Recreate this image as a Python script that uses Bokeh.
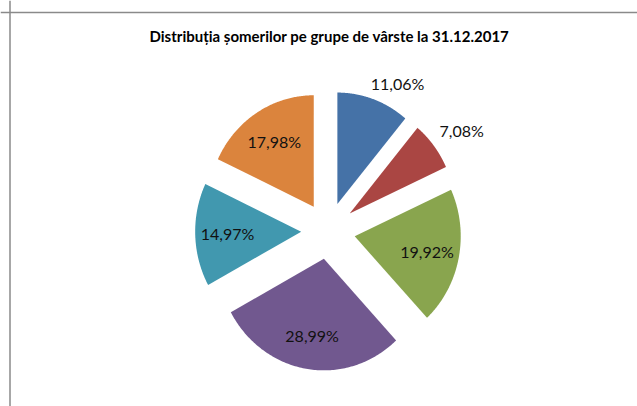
import numpy as np
from bokeh.plotting import figure
from bokeh.models import ColumnDataSource, Range1d, Span
from bokeh.core.properties import value
from bokeh.embed import file_html
from bokeh.resources import INLINE

# ---- data ----
title_text = "Distribuția șomerilor pe grupe de vârste la 31.12.2017"
shares = [11.06, 7.08, 19.92, 28.99, 14.97, 17.98]
colors = ["#4572A7", "#AA4643", "#89A54E", "#71588F", "#4198AF", "#DB843D"]
outside = [True, True, False, False, False, False]

# ---- layout constants (page pixels) ----
ORIGIN = 0                 # where the figure starts on the page
W, H = 637, 406
CX, CY = 327.7, 230.3      # pie centre on page
RX, RY = 106.0, 111.5      # pie radii in pixels
EXPLODE = 0.255

def px(x):
    return (x - CX) / RX

def py(y):
    return (CY - y) / RY

p = figure(width=W, height=H, output_backend="svg", toolbar_location=None,
           x_range=Range1d(px(ORIGIN), px(ORIGIN + W)),
           y_range=Range1d(py(ORIGIN + H), py(ORIGIN)),
           min_border=0)
p.axis.visible = False
p.grid.visible = False
p.outline_line_color = None
p.background_fill_color = "white"
p.border_fill_color = "white"

# border of the chart area
p.add_layout(Span(location=px(9.5), dimension="height", line_color="#8a8a8a", line_width=1.5))
p.add_layout(Span(location=py(12), dimension="width", line_color="#8a8a8a", line_width=1.5))

total = sum(shares)
xs, ys, lx, ly, ltxt, lalign = [], [], [], [], [], []
start = np.pi / 2
for v, out in zip(shares, outside):
    sweep = 2 * np.pi * v / total
    end = start - sweep
    mid = (start + end) / 2
    ox, oy = EXPLODE * np.cos(mid), EXPLODE * np.sin(mid)
    th = np.linspace(start, end, 120)
    xs.append(list(np.concatenate([[ox], ox + np.cos(th)])))
    ys.append(list(np.concatenate([[oy], oy + np.sin(th)])))
    if out:
        a = mid + np.radians(3)
        lx.append(1.38 * np.cos(a)); ly.append(1.38 * np.sin(a)); lalign.append("left")
    else:
        lx.append(0.95 * np.cos(mid)); ly.append(0.95 * np.sin(mid)); lalign.append("center")
    ltxt.append(f"{v:.2f}".replace(".", ",") + "%")
    start = end

src = ColumnDataSource(dict(xs=xs, ys=ys, color=colors))
p.patches("xs", "ys", source=src, fill_color="color", line_color=None)

lsrc = ColumnDataSource(dict(x=lx, y=ly, t=ltxt, a=lalign))
p.text("x", "y", text="t", source=lsrc, text_align="a", text_baseline="middle",
       text_font=value("Lato"), text_font_size="16px", text_color="#111111")

p.text([px(329)], [py(35.5)], text=[title_text], text_align="center", text_baseline="middle",
       text_font=value("Lato"), text_font_style="bold", text_font_size="15px", text_color="#000000")

open("out.html", "w").write(file_html(p, INLINE))
